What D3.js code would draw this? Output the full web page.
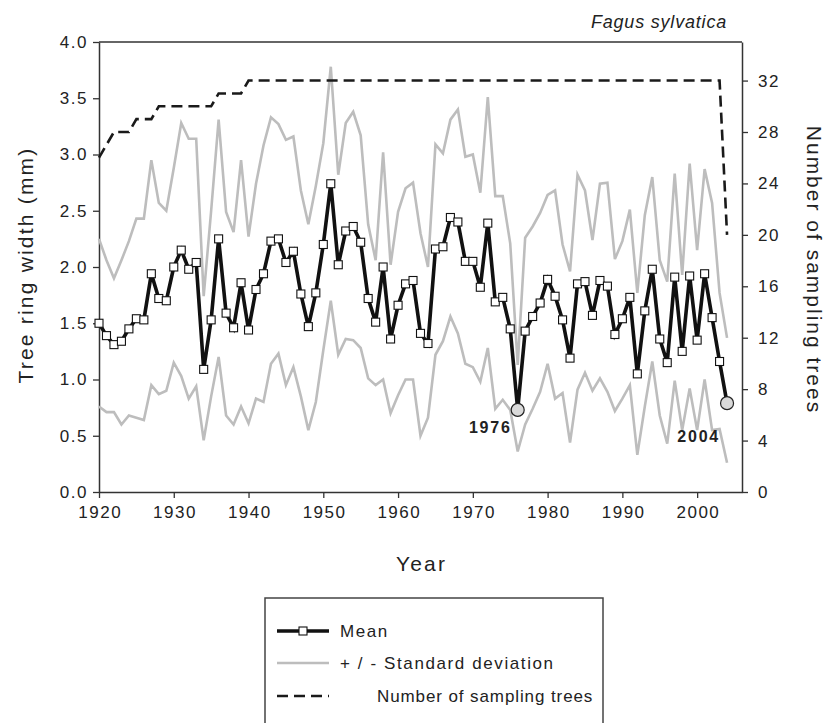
<!DOCTYPE html>
<html>
<head>
<meta charset="utf-8">
<script src="https://cdn.jsdelivr.net/npm/d3@7"></script>
<style>
  html, body { margin: 0; padding: 0; background: #fff; }
  svg { display: block; font-family: "Liberation Sans", Arial, Helvetica, sans-serif; }
</style>
</head>
<body>
<svg id="chart" width="827" height="723"></svg>
<script>
// Tree-ring chronology of Fagus sylvatica, 1920–2004
const years = d3.range(1920, 2005);

const meanWidth = [
  1.50, 1.39, 1.31, 1.34, 1.45, 1.54, 1.53, 1.94, 1.72, 1.70,
  2.00, 2.15, 1.98, 2.04, 1.09, 1.53, 2.25, 1.59, 1.46, 1.86,
  1.44, 1.80, 1.94, 2.23, 2.25, 2.04, 2.14, 1.76, 1.47, 1.77,
  2.20, 2.74, 2.02, 2.32, 2.36, 2.22, 1.72, 1.51, 2.00, 1.36,
  1.66, 1.85, 1.88, 1.41, 1.32, 2.16, 2.18, 2.44, 2.40, 2.05,
  2.05, 1.82, 2.39, 1.69, 1.73, 1.45, 0.73, 1.43, 1.56, 1.68,
  1.89, 1.74, 1.53, 1.19, 1.85, 1.87, 1.57, 1.88, 1.83, 1.40,
  1.54, 1.73, 1.05, 1.61, 1.98, 1.36, 1.15, 1.91, 1.25, 1.92,
  1.35, 1.94, 1.55, 1.16, 0.79
];

const sdUpper = [
  2.25, 2.06, 1.90, 2.06, 2.23, 2.43, 2.43, 2.95, 2.57, 2.50,
  2.88, 3.28, 3.14, 3.14, 1.74, 2.50, 3.31, 2.49, 2.31, 2.95,
  2.27, 2.74, 3.08, 3.33, 3.27, 3.13, 3.16, 2.68, 2.38, 2.72,
  3.10, 3.78, 2.82, 3.28, 3.38, 3.17, 2.38, 2.06, 3.02, 2.02,
  2.49, 2.70, 2.75, 2.30, 2.00, 3.09, 3.01, 3.31, 3.40, 2.98,
  3.00, 2.66, 3.51, 2.63, 2.63, 2.21, 1.13, 2.26, 2.36, 2.48,
  2.64, 2.68, 2.20, 1.96, 2.82, 2.68, 2.24, 2.74, 2.75, 2.07,
  2.23, 2.51, 1.77, 2.46, 2.80, 2.06, 1.87, 2.83, 1.93, 2.92,
  2.15, 2.87, 2.57, 1.77, 1.37
];

const sdLower = [
  0.76, 0.71, 0.71, 0.60, 0.68, 0.66, 0.64, 0.95, 0.87, 0.90,
  1.15, 1.03, 0.83, 0.94, 0.46, 0.85, 1.20, 0.68, 0.60, 0.76,
  0.61, 0.83, 0.80, 1.14, 1.23, 0.95, 1.11, 0.85, 0.55, 0.80,
  1.26, 1.70, 1.22, 1.36, 1.35, 1.28, 1.01, 0.95, 1.00, 0.70,
  0.86, 1.00, 1.00, 0.50, 0.66, 1.22, 1.34, 1.56, 1.41, 1.14,
  1.11, 0.98, 1.28, 0.74, 0.82, 0.73, 0.36, 0.60, 0.74, 0.89,
  1.14, 0.83, 0.88, 0.44, 0.91, 1.06, 0.90, 1.01, 0.89, 0.72,
  0.83, 0.95, 0.33, 0.76, 1.16, 0.68, 0.43, 0.99, 0.55, 0.92,
  0.55, 1.00, 0.55, 0.56, 0.26
];

const sampleTrees = [
  26, 27, 28, 28, 28, 29, 29, 29, 30, 30,
  30, 30, 30, 30, 30, 30, 31, 31, 31, 31,
  32, 32, 32, 32, 32, 32, 32, 32, 32, 32,
  32, 32, 32, 32, 32, 32, 32, 32, 32, 32,
  32, 32, 32, 32, 32, 32, 32, 32, 32, 32,
  32, 32, 32, 32, 32, 32, 32, 32, 32, 32,
  32, 32, 32, 32, 32, 32, 32, 32, 32, 32,
  32, 32, 32, 32, 32, 32, 32, 32, 32, 32,
  32, 32, 32, 32, 20
];

const highlightYears = [1976, 2004];

const xTicks = d3.range(1920, 2001, 10);
const yLeftTicks = d3.range(0, 4.01, 0.5);
const yRightTicks = d3.range(0, 33, 4);

const legendLabels = ["Mean", "+ / - Standard deviation", "Number of sampling trees"];

// ---- layout ----
const svg = d3.select("#chart");
const plot = { left: 99, right: 742, top: 42, bottom: 492 };

const x = d3.scaleLinear().domain([1920, 2006]).range([plot.left, plot.right]);
const yL = d3.scaleLinear().domain([0, 4]).range([plot.bottom, plot.top]);
const yR = d3.scaleLinear().domain([0, 35]).range([plot.bottom, plot.top]);

const axisColor = "#333";

function styleAxis(g) {
  g.select(".domain").attr("stroke", axisColor).attr("stroke-width", 1.5);
  g.selectAll(".tick line").attr("stroke", axisColor).attr("stroke-width", 1.3);
  g.selectAll(".tick text")
    .attr("fill", "#222")
    .style("font-size", "17px")
    .style("letter-spacing", "1.5px");
}

// top frame line
svg.append("line")
  .attr("x1", plot.left).attr("x2", plot.right)
  .attr("y1", plot.top).attr("y2", plot.top)
  .attr("stroke", axisColor).attr("stroke-width", 1.5);

// bottom axis
svg.append("g")
  .attr("transform", `translate(0,${plot.bottom})`)
  .call(d3.axisBottom(x).tickValues(xTicks).tickFormat(d3.format("d")).tickSize(6).tickSizeOuter(0).tickPadding(8))
  .call(styleAxis)
  .call(g => g.selectAll(".tick text").attr("dx", "0.75px"));

// left axis
svg.append("g")
  .attr("transform", `translate(${plot.left},0)`)
  .call(d3.axisLeft(yL).tickValues(yLeftTicks).tickFormat(d3.format(".1f")).tickSize(6).tickSizeOuter(0).tickPadding(5))
  .call(styleAxis);

// right axis
svg.append("g")
  .attr("transform", `translate(${plot.right},0)`)
  .call(d3.axisRight(yR).tickValues(yRightTicks).tickFormat(d3.format("d")).tickSize(6).tickSizeOuter(0).tickPadding(10))
  .call(styleAxis);

// ---- series ----
const rows = years.map((yr, i) => ({
  year: yr, mean: meanWidth[i], up: sdUpper[i], lo: sdLower[i], n: sampleTrees[i]
}));

const sdColor = "#bdbdbd";
const lineL = key => d3.line().x(d => x(d.year)).y(d => yL(d[key]));

svg.append("path").datum(rows)
  .attr("d", lineL("up"))
  .attr("fill", "none").attr("stroke", sdColor).attr("stroke-width", 2.6)
  .attr("stroke-linejoin", "miter");
svg.append("path").datum(rows)
  .attr("d", lineL("lo"))
  .attr("fill", "none").attr("stroke", sdColor).attr("stroke-width", 2.6)
  .attr("stroke-linejoin", "miter");

// number of sampling trees (right axis)
svg.append("path").datum(rows)
  .attr("d", d3.line().x(d => x(d.year)).y(d => yR(d.n)))
  .attr("fill", "none").attr("stroke", "#1a1a1a").attr("stroke-width", 2.6)
  .attr("stroke-dasharray", "11,6");

// mean ring width
svg.append("path").datum(rows)
  .attr("d", lineL("mean"))
  .attr("fill", "none").attr("stroke", "#111").attr("stroke-width", 3.6)
  .attr("stroke-linejoin", "miter");

const sq = 8;
svg.append("g").selectAll("rect")
  .data(rows.filter(d => !highlightYears.includes(d.year)))
  .join("rect")
  .attr("x", d => x(d.year) - sq / 2)
  .attr("y", d => yL(d.mean) - sq / 2)
  .attr("width", sq).attr("height", sq)
  .attr("fill", "#fff").attr("stroke", "#111").attr("stroke-width", 1.1);

svg.append("g").selectAll("circle")
  .data(rows.filter(d => highlightYears.includes(d.year)))
  .join("circle")
  .attr("cx", d => x(d.year))
  .attr("cy", d => yL(d.mean))
  .attr("r", 6.5)
  .attr("fill", "#d9d9d9").attr("stroke", "#222").attr("stroke-width", 1.2);

// year labels for the two minima
const yearLabelOffset = { 1976: { dx: -6, dy: 23, anchor: "end" }, 2004: { dx: -7, dy: 39, anchor: "end" } };
svg.append("g").selectAll("text")
  .data(rows.filter(d => highlightYears.includes(d.year)))
  .join("text")
  .attr("x", d => x(d.year) + yearLabelOffset[d.year].dx)
  .attr("y", d => yL(d.mean) + yearLabelOffset[d.year].dy)
  .attr("text-anchor", d => yearLabelOffset[d.year].anchor)
  .attr("fill", "#222")
  .style("font-size", "16px").style("font-weight", "bold").style("letter-spacing", "1.8px")
  .text(d => d.year);

// ---- titles ----
svg.append("text")
  .attr("x", 727).attr("y", 28)
  .attr("text-anchor", "end")
  .style("font-size", "18px").style("font-style", "italic").style("letter-spacing", "0.8px")
  .attr("fill", "#222")
  .text("Fagus sylvatica");

svg.append("text")
  .attr("transform", "translate(33,265) rotate(-90)")
  .attr("text-anchor", "middle")
  .style("font-size", "21px").style("letter-spacing", "2.2px")
  .attr("fill", "#222")
  .text("Tree ring width (mm)");

svg.append("text")
  .attr("transform", "translate(807,270) rotate(90)")
  .attr("text-anchor", "middle")
  .style("font-size", "21px").style("letter-spacing", "2px")
  .attr("fill", "#222")
  .text("Number of sampling trees");

svg.append("text")
  .attr("x", (plot.left + plot.right) / 2 + 1).attr("y", 571)
  .attr("text-anchor", "middle")
  .style("font-size", "21px").style("letter-spacing", "2.2px")
  .attr("fill", "#222")
  .text("Year");

// ---- legend ----
const legend = svg.append("g");
legend.append("rect")
  .attr("x", 265).attr("y", 598).attr("width", 338).attr("height", 140)
  .attr("fill", "#fff").attr("stroke", "#444").attr("stroke-width", 1.5);

const legY = [631, 663, 696];
const lx0 = 277, lx1 = 329;

legend.append("line")
  .attr("x1", lx0).attr("x2", lx1).attr("y1", legY[0]).attr("y2", legY[0])
  .attr("stroke", "#111").attr("stroke-width", 3.6);
legend.append("rect")
  .attr("x", (lx0 + lx1) / 2 - 4).attr("y", legY[0] - 4).attr("width", 8).attr("height", 8)
  .attr("fill", "#fff").attr("stroke", "#111").attr("stroke-width", 1.1);
legend.append("line")
  .attr("x1", lx0).attr("x2", lx1).attr("y1", legY[1]).attr("y2", legY[1])
  .attr("stroke", sdColor).attr("stroke-width", 2.6);
legend.append("line")
  .attr("x1", lx0).attr("x2", lx1).attr("y1", legY[2]).attr("y2", legY[2])
  .attr("stroke", "#1a1a1a").attr("stroke-width", 2.6).attr("stroke-dasharray", "11,6");

legend.selectAll("text.leg")
  .data(legendLabels)
  .join("text")
  .attr("class", "leg")
  .attr("x", (d, i) => i === 2 ? 377 : 340)
  .attr("y", (d, i) => legY[i] + 6)
  .style("font-size", "17px")
  .style("letter-spacing", (d, i) => i === 2 ? "0.9px" : "1.6px")
  .attr("fill", "#222")
  .text(d => d);
</script>
</body>
</html>
